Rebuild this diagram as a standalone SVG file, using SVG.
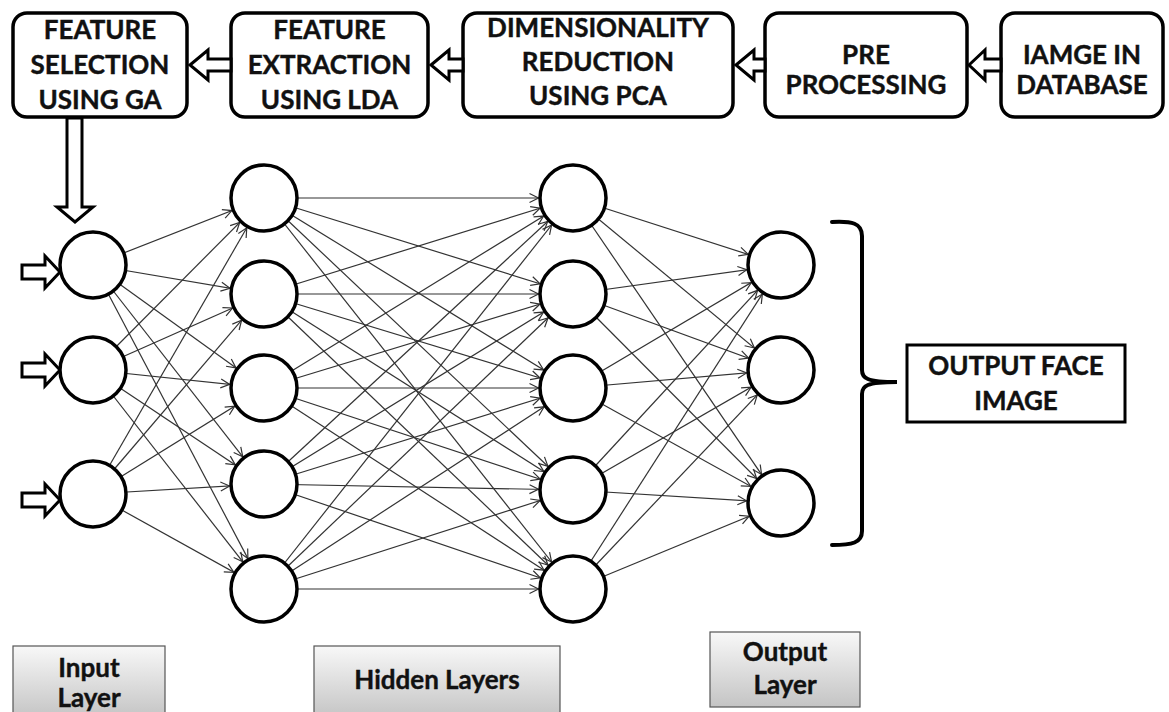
<svg xmlns="http://www.w3.org/2000/svg" width="1169" height="712" viewBox="0 0 1169 712">
<style>
.box{fill:#fff;stroke:#000;stroke-width:3.5}
.t{font-family:Lato,"Liberation Sans",sans-serif;font-weight:bold;font-size:26px;fill:#111;stroke:#111;stroke-width:0.4;text-anchor:middle}
.harr{fill:#fff;stroke:#000;stroke-width:3;stroke-linejoin:miter}
.node{fill:#fff;stroke:#000;stroke-width:3.5}
.c{stroke:#333;stroke-width:1.2;fill:none;marker-end:url(#ah)}
.lbl{fill:url(#g);stroke:#555;stroke-width:1.2}
.br{fill:none;stroke:#000;stroke-width:4;stroke-linecap:round}
</style>
<defs>
<marker id="ah" markerUnits="userSpaceOnUse" markerWidth="12" markerHeight="12" refX="34.5" refY="0" orient="auto" overflow="visible">
<path d="M-9,-4.5 L0,0 L-9,4.5" fill="none" stroke="#333" stroke-width="1.2"/>
</marker>
<linearGradient id="g" x1="0" y1="0" x2="0" y2="1">
<stop offset="0" stop-color="#f8f8f8"/>
<stop offset="1" stop-color="#c4c4c4"/>
</linearGradient>
</defs>
<rect width="1169" height="712" fill="#fff"/>

<g id="box-feature-selection"><rect class="box" x="13" y="13" width="174" height="104" rx="14"/>
<text class="t" x="100" y="39">FEATURE</text><text class="t" x="100" y="74">SELECTION</text><text class="t" x="100" y="109">USING GA</text></g>
<g id="box-feature-extraction"><rect class="box" x="231" y="13" width="197" height="104" rx="14"/>
<text class="t" x="329.5" y="39">FEATURE</text><text class="t" x="329.5" y="74">EXTRACTION</text><text class="t" x="329.5" y="109">USING LDA</text></g>
<g id="box-dim-reduction"><rect class="box" x="463" y="13" width="270" height="104" rx="14"/>
<text class="t" x="598" y="37">DIMENSIONALITY</text><text class="t" x="598" y="71">REDUCTION</text><text class="t" x="598" y="105">USING PCA</text></g>
<g id="box-preprocessing"><rect class="box" x="765" y="13" width="202" height="104" rx="14"/>
<text class="t" x="866" y="64">PRE</text><text class="t" x="866" y="94">PROCESSING</text></g>
<g id="box-image-db"><rect class="box" x="1001" y="13" width="162" height="104" rx="14"/>
<text class="t" x="1082" y="64">IAMGE IN</text><text class="t" x="1082" y="94">DATABASE</text></g>

<g id="pipeline-arrows">
<polygon class="harr" points="190,65 208,50 208,59 231,59 231,71 208,71 208,80"/>
<polygon class="harr" points="431,65 449,50 449,59 463,59 463,71 449,71 449,80"/>
<polygon class="harr" points="736,65 754,50 754,59 765,59 765,71 754,71 754,80"/>
<polygon class="harr" points="969,65 985,50 985,59 1001,59 1001,71 985,71 985,80"/>
<polygon class="harr" points="67,118 82,118 82,207 93,207 75,222 57,207 67,207"/>
<polygon class="harr" points="22,265 45,265 45,256 60,272 45,288 45,279 22,279"/>
<polygon class="harr" points="22,363 45,363 45,354 60,370 45,386 45,377 22,377"/>
<polygon class="harr" points="22,493 45,493 45,484 60,500 45,516 45,507 22,507"/>
</g>

<g id="connectors">
<line class="c" x1="93" y1="265" x2="264" y2="198"/><line class="c" x1="93" y1="265" x2="264" y2="294"/><line class="c" x1="93" y1="265" x2="264" y2="388"/><line class="c" x1="93" y1="265" x2="264" y2="484"/><line class="c" x1="93" y1="265" x2="264" y2="589"/>
<line class="c" x1="93" y1="370" x2="264" y2="198"/><line class="c" x1="93" y1="370" x2="264" y2="294"/><line class="c" x1="93" y1="370" x2="264" y2="388"/><line class="c" x1="93" y1="370" x2="264" y2="484"/><line class="c" x1="93" y1="370" x2="264" y2="589"/>
<line class="c" x1="93" y1="494" x2="264" y2="198"/><line class="c" x1="93" y1="494" x2="264" y2="294"/><line class="c" x1="93" y1="494" x2="264" y2="388"/><line class="c" x1="93" y1="494" x2="264" y2="484"/><line class="c" x1="93" y1="494" x2="264" y2="589"/>

<line class="c" x1="264" y1="198" x2="573" y2="198"/><line class="c" x1="264" y1="198" x2="573" y2="294"/><line class="c" x1="264" y1="198" x2="573" y2="388"/><line class="c" x1="264" y1="198" x2="573" y2="490"/><line class="c" x1="264" y1="198" x2="573" y2="589"/>
<line class="c" x1="264" y1="294" x2="573" y2="198"/><line class="c" x1="264" y1="294" x2="573" y2="294"/><line class="c" x1="264" y1="294" x2="573" y2="388"/><line class="c" x1="264" y1="294" x2="573" y2="490"/><line class="c" x1="264" y1="294" x2="573" y2="589"/>
<line class="c" x1="264" y1="388" x2="573" y2="198"/><line class="c" x1="264" y1="388" x2="573" y2="294"/><line class="c" x1="264" y1="388" x2="573" y2="388"/><line class="c" x1="264" y1="388" x2="573" y2="490"/><line class="c" x1="264" y1="388" x2="573" y2="589"/>
<line class="c" x1="264" y1="484" x2="573" y2="198"/><line class="c" x1="264" y1="484" x2="573" y2="294"/><line class="c" x1="264" y1="484" x2="573" y2="388"/><line class="c" x1="264" y1="484" x2="573" y2="490"/><line class="c" x1="264" y1="484" x2="573" y2="589"/>
<line class="c" x1="264" y1="589" x2="573" y2="198"/><line class="c" x1="264" y1="589" x2="573" y2="294"/><line class="c" x1="264" y1="589" x2="573" y2="388"/><line class="c" x1="264" y1="589" x2="573" y2="490"/><line class="c" x1="264" y1="589" x2="573" y2="589"/>

<line class="c" x1="573" y1="198" x2="781" y2="265"/><line class="c" x1="573" y1="198" x2="781" y2="370"/><line class="c" x1="573" y1="198" x2="781" y2="503"/>
<line class="c" x1="573" y1="294" x2="781" y2="265"/><line class="c" x1="573" y1="294" x2="781" y2="370"/><line class="c" x1="573" y1="294" x2="781" y2="503"/>
<line class="c" x1="573" y1="388" x2="781" y2="265"/><line class="c" x1="573" y1="388" x2="781" y2="370"/><line class="c" x1="573" y1="388" x2="781" y2="503"/>
<line class="c" x1="573" y1="490" x2="781" y2="265"/><line class="c" x1="573" y1="490" x2="781" y2="370"/><line class="c" x1="573" y1="490" x2="781" y2="503"/>
<line class="c" x1="573" y1="589" x2="781" y2="265"/><line class="c" x1="573" y1="589" x2="781" y2="370"/><line class="c" x1="573" y1="589" x2="781" y2="503"/>
</g>

<g id="input-nodes"><circle class="node" cx="93" cy="265" r="33"/><circle class="node" cx="93" cy="370" r="33"/><circle class="node" cx="93" cy="494" r="33"/></g>
<g id="hidden1-nodes"><circle class="node" cx="264" cy="198" r="33"/><circle class="node" cx="264" cy="294" r="33"/><circle class="node" cx="264" cy="388" r="33"/><circle class="node" cx="264" cy="484" r="33"/><circle class="node" cx="264" cy="589" r="33"/></g>
<g id="hidden2-nodes"><circle class="node" cx="573" cy="198" r="33"/><circle class="node" cx="573" cy="294" r="33"/><circle class="node" cx="573" cy="388" r="33"/><circle class="node" cx="573" cy="490" r="33"/><circle class="node" cx="573" cy="589" r="33"/></g>
<g id="output-nodes"><circle class="node" cx="781" cy="265" r="33"/><circle class="node" cx="781" cy="370" r="33"/><circle class="node" cx="781" cy="503" r="33"/></g>

<g id="bracket"><path class="br" d="M832,222 C852,221 862,223 862,236 L862,370 C862,378 866,382 897,382 C866,382 862,386 862,394 L862,531 C862,543 852,545 832,545"/></g>
<g id="output-face-image"><rect x="907" y="345" width="218" height="77" fill="#fff" stroke="#000" stroke-width="3"/>
<text class="t" x="1016" y="375">OUTPUT FACE</text><text class="t" x="1016" y="410">IMAGE</text></g>

<g id="label-input"><rect class="lbl" x="13" y="646" width="152" height="72"/><text class="t" x="89" y="677">Input</text><text class="t" x="89" y="707">Layer</text></g>
<g id="label-hidden"><rect class="lbl" x="314" y="646" width="246" height="72"/><text class="t" x="437" y="689">Hidden Layers</text></g>
<g id="label-output"><rect class="lbl" x="710" y="632" width="150" height="75"/><text class="t" x="785" y="661">Output</text><text class="t" x="785" y="694">Layer</text></g>
</svg>
